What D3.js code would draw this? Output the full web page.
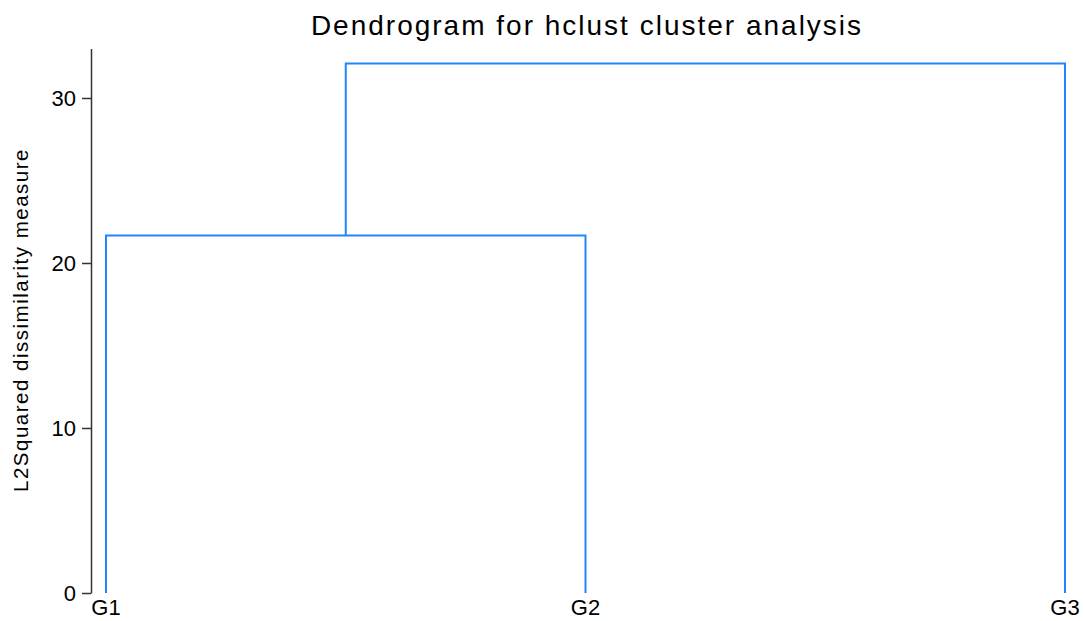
<!DOCTYPE html>
<html><head><meta charset="utf-8">
<script src="https://cdn.jsdelivr.net/npm/d3@7"></script>
<style>body{margin:0;background:#fff}svg{display:block;font-family:"Liberation Sans",Arial,sans-serif}</style>
</head><body><svg id="c" width="1084" height="621"></svg>
<script>
const leaves = ["G1", "G2", "G3"];
// merges: [left, right, height]
const mergeLeft = ["G1", "C1"];
const mergeRight = ["G2", "G3"];
const mergeNames = ["C1", "C2"];
const mergeHeights = [21.67, 32.09];
const yTicks = [0, 10, 20, 30];

const svg = d3.select("#c");
const x = d3.scalePoint().domain(leaves).range([106, 1065]);
const y = d3.scaleLinear().domain([0, 33]).range([593, 48.5]);

const pos = {};
leaves.forEach(l => pos[l] = {x: x(l), h: 0});
mergeNames.forEach((n, i) => {
  const a = pos[mergeLeft[i]], b = pos[mergeRight[i]];
  pos[n] = {x: (a.x + b.x) / 2, h: mergeHeights[i]};
});

const col = "#2186fb";
const g = svg.append("g");
mergeNames.forEach((n, i) => {
  const a = pos[mergeLeft[i]], b = pos[mergeRight[i]], hh = mergeHeights[i];
  const p = `M${a.x},${y(a.h)}V${y(hh)}H${b.x}V${y(b.h)}`;
  g.append("path").attr("d", p).attr("fill", "none").attr("stroke", col).attr("stroke-width", 2);
});

// y axis
const ax = svg.append("g").attr("transform", "translate(91,0)")
  .call(d3.axisLeft(y).tickValues(yTicks).tickSize(9).tickPadding(6).tickSizeOuter(0));
ax.select(".domain").attr("stroke", "#333").attr("stroke-width", 1.5);
ax.selectAll(".tick line").attr("stroke", "#333").attr("stroke-width", 1.5);
ax.selectAll(".tick text").attr("font-size", 22).attr("fill", "#000").attr("font-family", "Liberation Sans, Arial, sans-serif");

// x labels
svg.append("g").selectAll("text").data(leaves).join("text")
  .attr("x", d => x(d)).attr("y", 615).attr("text-anchor", "middle")
  .attr("font-size", 22).text(d => d);

svg.append("text").attr("x", 587).attr("y", 35).attr("text-anchor", "middle")
  .attr("font-size", 28).attr("letter-spacing", 2.0).text("Dendrogram for hclust cluster analysis");

svg.append("text").attr("transform", "translate(28,320) rotate(-90)")
  .attr("text-anchor", "middle").attr("font-size", 20.5).attr("letter-spacing", 1.5).text("L2Squared dissimilarity measure");
</script></body></html>
